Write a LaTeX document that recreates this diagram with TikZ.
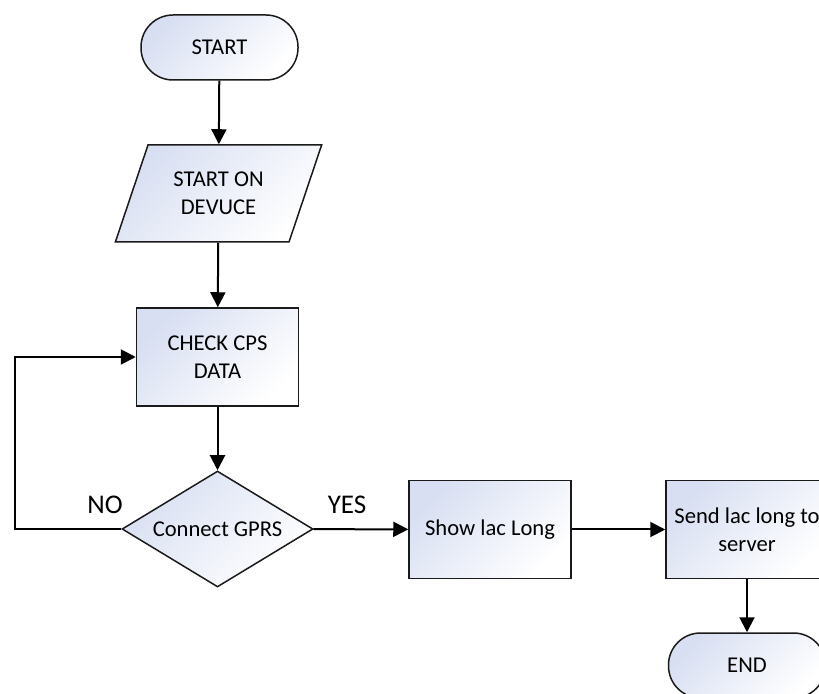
\documentclass[tikz,border=0pt]{standalone}
\usepackage{fontspec}
\setmainfont{Carlito}
\usetikzlibrary{arrows.meta, positioning, shapes.geometric}
\definecolor{shadeblue}{HTML}{D8DFF2}
\definecolor{edge}    {HTML}{1A1A1A}

\begin{document}
\begin{tikzpicture}[x=0.5pt, y=-0.5pt, font=\fontsize{11.3}{14}\selectfont,
    flow/.style={draw=edge, line width=0.75pt, top color=shadeblue, bottom color=white, shading angle=45, align=center, inner sep=0pt},
    proc/.style={flow, minimum width=81pt, minimum height=49pt},
    term/.style={flow, rounded corners=16pt, minimum width=78.5pt, minimum height=32.5pt},
    io/.style={flow, trapezium, trapezium left angle=64, trapezium right angle=116, trapezium stretches=true, minimum width=103.5pt, minimum height=48.5pt},
    dec/.style={flow, diamond, aspect=1.65, minimum width=95.5pt, minimum height=58pt},
    arr/.style={draw=black, line width=1pt, -{Triangle[length=7.5pt, width=7.5pt]}},
    lbl/.style={font=\fontsize{13.5}{16}\selectfont}]
  \useasboundingbox (0,0) rectangle (819,694);

  \node[term] (start) at (219.5,47.5) {START};
  \node[io] (in) at (218.5,193.5) {START ON\\DEVUCE};
  \node[proc] (check) at (217.5,357) {CHECK CPS\\DATA};
  \node[dec] (dia) at (217.5,529) {Connect GPRS};
  \node[proc] (show) at (490,529.5) {Show lac Long};
  \node[proc] (send) at (747,529.5) {Send lac long to\\server};
  \node[term] (end) at (747,665.5) {END};

  \node[lbl] (no) at (105,505) {NO};
  \node[lbl] (yes) at (347,505) {YES};
  \coordinate (lp) at (15,357);

  \draw[arr] (start) -- (in);
  \draw[arr] (in) -- (check);
  \draw[arr] (check) -- (dia);
  \draw[arr] (dia.west) -| (lp) -- (check.west);
  \draw[arr] (dia) -- (show);
  \draw[arr] (show) -- (send);
  \draw[arr] (send) -- (end);
\end{tikzpicture}
\end{document}
